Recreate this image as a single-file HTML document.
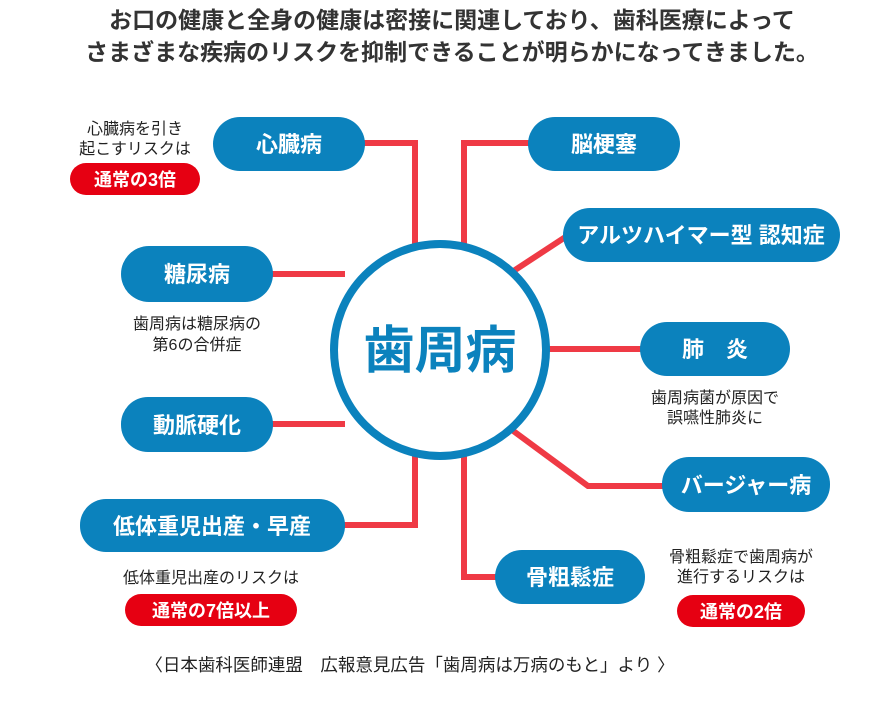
<!DOCTYPE html>
<html><head><meta charset="utf-8"><style>
html,body{margin:0;padding:0;background:#fff;width:887px;height:711px;overflow:hidden}
svg{display:block}
text{font-family:"Liberation Sans","Noto Sans CJK JP",sans-serif}
</style></head><body>
<svg width="887" height="711" viewBox="0 0 887 711" xmlns="http://www.w3.org/2000/svg">
<g font-weight="bold" font-size="23" fill="#333" text-anchor="middle">
<text x="452" y="28">お口の健康と全身の健康は密接に関連しており、歯科医療によって</text>
<text x="452" y="60">さまざまな疾病のリスクを抑制できることが明らかになってきました。</text>
</g>
<g stroke="#ef3a45" stroke-width="6" fill="none">
<polyline points="360,143 415,143 415,250"/>
<polyline points="530,143 464,143 464,250"/>
<line x1="270" y1="274" x2="345" y2="274"/>
<line x1="270" y1="424" x2="345" y2="424"/>
<polyline points="340,525 415,525 415,450"/>
<polyline points="500,577 464,577 464,450"/>
<line x1="512" y1="272" x2="570" y2="234"/>
<line x1="545" y1="349" x2="645" y2="349"/>
<polyline points="512,430 588,486 665,486"/>
</g>
<circle cx="440" cy="350" r="106" fill="#fff" stroke="#0b82bd" stroke-width="8"/>
<text x="440" y="368" text-anchor="middle" font-size="51" font-weight="bold" fill="#0b82bd">歯周病</text>
<g fill="#0b82bd">
<rect x="213" y="117" width="152" height="54" rx="27"/>
<rect x="121" y="246" width="152" height="56" rx="28"/>
<rect x="121" y="397" width="152" height="55" rx="27"/>
<rect x="80" y="499" width="265" height="53" rx="26"/>
<rect x="528" y="117" width="152" height="54" rx="27"/>
<rect x="563" y="208" width="277" height="54" rx="27"/>
<rect x="640" y="322" width="150" height="54" rx="27"/>
<rect x="662" y="457" width="168" height="55" rx="27"/>
<rect x="495" y="550" width="150" height="54" rx="27"/>
</g>
<g fill="#fff" font-size="22" font-weight="bold" text-anchor="middle">
<text x="289" y="152">心臓病</text>
<text x="197" y="282">糖尿病</text>
<text x="197" y="433">動脈硬化</text>
<text x="212" y="534">低体重児出産・早産</text>
<text x="604" y="152">脳梗塞</text>
<text x="701" y="243">アルツハイマー型 認知症</text>
<text x="715" y="357">肺　炎</text>
<text x="746" y="493">バージャー病</text>
<text x="570" y="585">骨粗鬆症</text>
</g>
<g fill="#e60012">
<rect x="70" y="163" width="130" height="32" rx="16"/>
<rect x="125" y="594" width="172" height="32" rx="16"/>
<rect x="677" y="595" width="128" height="32" rx="16"/>
</g>
<g fill="#fff" font-size="18" font-weight="bold" text-anchor="middle">
<text x="135" y="186">通常の3倍</text>
<text x="211" y="617">通常の7倍以上</text>
<text x="741" y="618">通常の2倍</text>
</g>
<g fill="#222" font-size="16" text-anchor="middle">
<text x="135" y="134">心臓病を引き</text>
<text x="135" y="154">起こすリスクは</text>
<text x="197" y="329">歯周病は糖尿病の</text>
<text x="197" y="350">第6の合併症</text>
<text x="715" y="403">歯周病菌が原因で</text>
<text x="715" y="423">誤嚥性肺炎に</text>
<text x="741" y="562">骨粗鬆症で歯周病が</text>
<text x="741" y="582">進行するリスクは</text>
<text x="211" y="583">低体重児出産のリスクは</text>
<text x="410" y="671" font-size="17.5">〈日本歯科医師連盟　広報意見広告「歯周病は万病のもと」より 〉</text>
</g>
</svg>
</body></html>
